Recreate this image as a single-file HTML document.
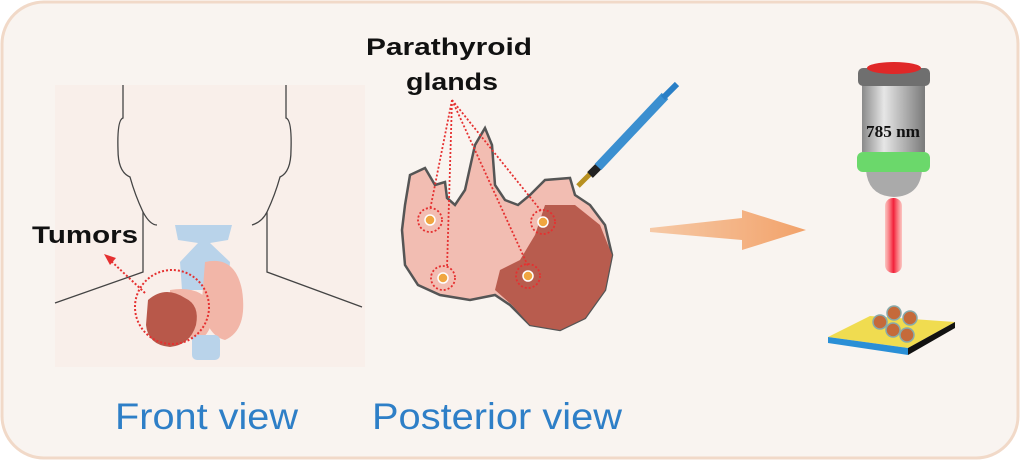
<!DOCTYPE html>
<html><head><style>
body{margin:0;background:#fff;}
svg{display:block;}
text{font-family:"Liberation Sans",sans-serif;}
</style></head><body>
<svg width="1020" height="460" viewBox="0 0 1020 460">
<defs>
<linearGradient id="body" x1="0" x2="1"><stop offset="0" stop-color="#8a8a8a"/><stop offset="0.35" stop-color="#e6e6e6"/><stop offset="1" stop-color="#7a7a7a"/></linearGradient>
<linearGradient id="beam" x1="0" x2="1"><stop offset="0" stop-color="#f55" stop-opacity="0.3"/><stop offset="0.5" stop-color="#f2203a"/><stop offset="1" stop-color="#f55" stop-opacity="0.3"/></linearGradient>
<linearGradient id="arr" x1="0" x2="1"><stop offset="0" stop-color="#f6c9a6"/><stop offset="1" stop-color="#f2a26a"/></linearGradient>
</defs>
<rect x="2" y="2" width="1016" height="456" rx="42" fill="#f9f4f0" stroke="#f1d9c8" stroke-width="3"/>
<!-- front view -->
<rect x="55" y="85" width="310" height="282" fill="#f9efea"/>
<g fill="none" stroke="#444" stroke-width="1.3">
<path d="M123 85 L123 118 Q117 120 118 150 Q118 172 130 177 Q135 195 143 212 L143 272 L55 303"/>
<path d="M286 85 L286 118 Q292 120 291 150 Q291 172 280 177 Q275 195 267 212 L267 272 L362 307"/>
<path d="M143 212 Q150 225 157 225"/><path d="M267 212 Q262 222 252 225"/>
</g>
<path d="M175 225 L232 225 L228 240 L210 243 L230 262 L228 290 L182 290 L180 262 L198 243 L178 240 Z" fill="#b9d3ea"/>
<path d="M205 262 Q235 255 242 290 Q248 330 225 340 Q205 335 202 300 Z" fill="#f2b6a8"/>
<path d="M170 290 Q200 285 212 305 Q215 330 200 340 L170 335 Z" fill="#f2b6a8"/>
<rect x="192" y="335" width="28" height="25" rx="5" fill="#b9d3ea"/>
<path d="M148 300 Q165 285 185 298 Q200 305 196 325 Q190 345 170 347 Q148 345 146 325 Z" fill="#b8584a"/>
<circle cx="172" cy="307" r="37" fill="none" stroke="#e53030" stroke-width="2" stroke-dasharray="2 2"/>
<line x1="145" y1="293" x2="110" y2="260" stroke="#e53030" stroke-width="2" stroke-dasharray="2 2"/>
<polygon points="104,254 116,258 110,265" fill="#e53030"/>
<text x="32" y="243" font-size="24" font-weight="bold" fill="#111" textLength="106" lengthAdjust="spacingAndGlyphs">Tumors</text>
<!-- posterior view -->
<path d="M410 175 L425 168 L435 185 L445 182 L447 198 L455 205 L465 190 L475 145 L485 128 L492 145 L495 185 L505 200 L518 205 L530 195 L545 180 L570 178 L575 195 L590 205 L605 225 L612 255 L605 290 L585 318 L560 330 L530 325 L510 305 L495 295 L470 300 L440 295 L418 285 L405 265 L402 230 L405 205 Z" fill="#f2bdb2" stroke="#555" stroke-width="2.5"/>
<path d="M545 205 L575 205 L600 225 L612 255 L605 290 L585 318 L560 330 L530 325 L512 305 L495 290 L500 270 L520 260 L535 235 Z" fill="#b85c4e"/>
<g fill="none" stroke="#e53030" stroke-width="1.8" stroke-dasharray="2 2">
<path d="M452 100 L430 210 M452 100 L447 268 M452 100 L528 266 M452 100 L542 212"/>
<circle cx="430" cy="220" r="12"/><circle cx="443" cy="278" r="12"/><circle cx="543" cy="222" r="12"/><circle cx="528" cy="276" r="12"/>
</g>
<g fill="#f0a640" stroke="#fff" stroke-width="1.5"><circle cx="430" cy="220" r="5"/><circle cx="443" cy="278" r="5"/><circle cx="543" cy="222" r="5"/><circle cx="528" cy="276" r="5"/></g>
<text x="366" y="55" font-size="24" font-weight="bold" fill="#111" textLength="166" lengthAdjust="spacingAndGlyphs">Parathyroid</text>
<text x="406" y="90" font-size="24" font-weight="bold" fill="#111" textLength="92" lengthAdjust="spacingAndGlyphs">glands</text>
<line x1="578" y1="186" x2="592" y2="172" stroke="#b89020" stroke-width="5"/>
<line x1="590" y1="175" x2="600" y2="165" stroke="#222" stroke-width="8"/>
<line x1="598" y1="167" x2="665" y2="96" stroke="#3b8fd0" stroke-width="9"/>
<line x1="663" y1="98" x2="677" y2="84" stroke="#2a7fc6" stroke-width="6"/>
<!-- arrow -->
<polygon points="650,228 742,218 742,210 806,230 742,250 742,240 650,232" fill="url(#arr)"/>
<!-- laser -->
<rect x="862" y="84" width="63" height="68" fill="url(#body)"/>
<rect x="858" y="68" width="72" height="18" rx="5" fill="#6f6f6f"/>
<ellipse cx="894" cy="68" rx="27" ry="6" fill="#e02828"/>
<text x="866" y="137" font-size="17" font-weight="bold" style="font-family:'Liberation Serif',serif" fill="#111" textLength="54" lengthAdjust="spacingAndGlyphs">785 nm</text>
<path d="M866 170 Q868 196 894 197 Q920 196 922 170 Z" fill="#aaa"/>
<rect x="857" y="152" width="73" height="20" rx="6" fill="#6bd86b"/>
<rect x="885" y="198" width="17" height="75" rx="8" fill="url(#beam)"/>
<polygon points="828,337 870,316 955,322 908,348" fill="#f0dc50"/>
<polygon points="828,337 908,348 908,355 828,343" fill="#2a8fd6"/>
<polygon points="908,348 955,322 955,328 908,355" fill="#111"/>
<g fill="#c56a3a" stroke="#8aa" stroke-width="1.5">
<circle cx="880" cy="322" r="7"/><circle cx="894" cy="313" r="7"/><circle cx="910" cy="318" r="7"/><circle cx="893" cy="330" r="7"/><circle cx="907" cy="335" r="7"/>
</g>
<text x="115" y="429" font-size="37" fill="#2e7fc7" textLength="183" lengthAdjust="spacingAndGlyphs">Front view</text>
<text x="372" y="429" font-size="37" fill="#2e7fc7" textLength="250" lengthAdjust="spacingAndGlyphs">Posterior view</text>
</svg>
</body></html>
